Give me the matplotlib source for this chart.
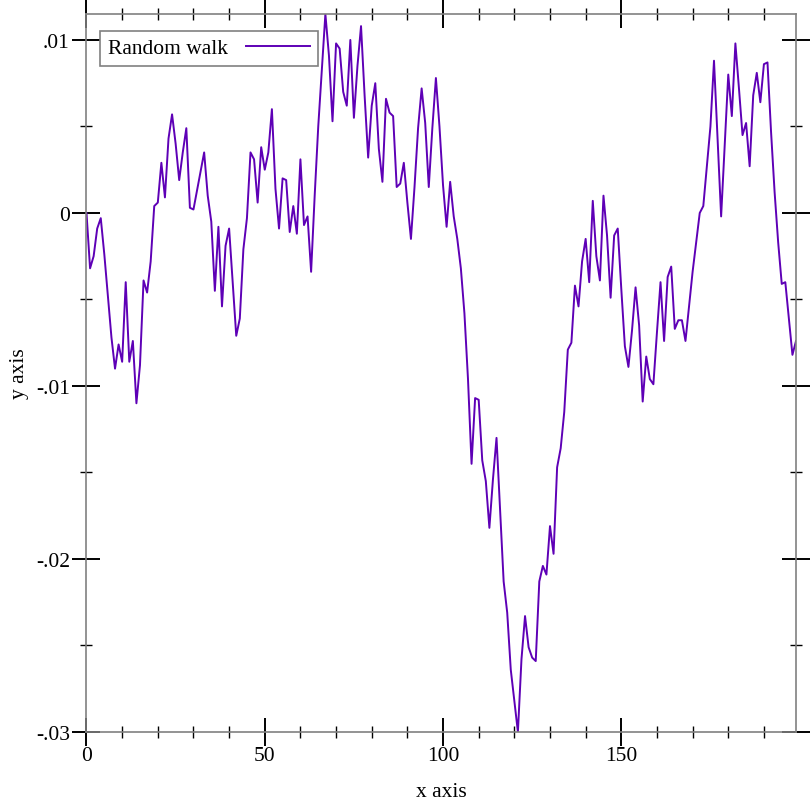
import numpy as np
import matplotlib
matplotlib.use("Agg")
import matplotlib.pyplot as plt
from matplotlib.ticker import MultipleLocator, FuncFormatter

# values, one per step (x = 0..199)
walk = [
    0.0000, -0.0032, -0.0025, -0.0009, -0.0003, -0.0024, -0.0048, -0.0072, -0.0090, -0.0076,
    -0.0086, -0.0040, -0.0086, -0.0074, -0.0110, -0.0088, -0.0039, -0.0046, -0.0028, 0.0004,
    0.0006, 0.0029, 0.0009, 0.0043, 0.0057, 0.0040, 0.0019, 0.0035, 0.0049, 0.0003,
    0.0002, 0.0013, 0.0024, 0.0035, 0.0010, -0.0005, -0.0045, -0.0008, -0.0054, -0.0019,
    -0.0009, -0.0040, -0.0071, -0.0061, -0.0021, -0.0003, 0.0035, 0.0031, 0.0006, 0.0038,
    0.0025, 0.0035, 0.0060, 0.0014, -0.0009, 0.0020, 0.0019, -0.0011, 0.0004, -0.0012,
    0.0031, -0.0007, -0.0002, -0.0034, 0.0010, 0.0050, 0.0083, 0.0115, 0.0091, 0.0053,
    0.0098, 0.0095, 0.0070, 0.0062, 0.0100, 0.0055, 0.0085, 0.0108, 0.0068, 0.0032,
    0.0062, 0.0075, 0.0037, 0.0018, 0.0066, 0.0058, 0.0056, 0.0015, 0.0017, 0.0029,
    0.0006, -0.0015, 0.0015, 0.0049, 0.0072, 0.0052, 0.0015, 0.0049, 0.0078, 0.0050,
    0.0016, -0.0008, 0.0018, -0.0002, -0.0015, -0.0032, -0.0058, -0.0096, -0.0145, -0.0107,
    -0.0108, -0.0143, -0.0155, -0.0182, -0.0154, -0.0130, -0.0171, -0.0213, -0.0231, -0.0264,
    -0.0282, -0.0300, -0.0258, -0.0233, -0.0251, -0.0257, -0.0259, -0.0213, -0.0204, -0.0209,
    -0.0181, -0.0197, -0.0147, -0.0136, -0.0115, -0.0079, -0.0075, -0.0042, -0.0054, -0.0028,
    -0.0015, -0.0040, 0.0007, -0.0025, -0.0039, 0.0010, -0.0013, -0.0049, -0.0013, -0.0009,
    -0.0044, -0.0077, -0.0089, -0.0068, -0.0043, -0.0065, -0.0109, -0.0083, -0.0096, -0.0099,
    -0.0069, -0.0040, -0.0074, -0.0037, -0.0031, -0.0067, -0.0062, -0.0062, -0.0074, -0.0054,
    -0.0034, -0.0017, 0.0000, 0.0004, 0.0027, 0.0050, 0.0088, 0.0043, -0.0002, 0.0039,
    0.0080, 0.0056, 0.0098, 0.0072, 0.0045, 0.0052, 0.0027, 0.0068, 0.0081, 0.0064,
    0.0086, 0.0087, 0.0047, 0.0012, -0.0017, -0.0041, -0.0040, -0.0061, -0.0082, -0.0074,
]
steps = list(range(len(walk)))
series_label = "Random walk"
x_title = "x axis"
y_title = "y axis"

plt.rcParams['font.family'] = ['Liberation Serif', 'DejaVu Serif']
plt.rcParams['font.size'] = 15.5

fig = plt.figure(figsize=(8.12, 8.12), dpi=100)
ax = fig.add_axes([86.5 / 812, 79 / 812, 709.5 / 812, 718 / 812])

ax.plot(steps, walk, color='#5e00b6', lw=1.4, label=series_label)

ax.set_xlim(0, steps[-1])
ax.set_ylim(min(walk), max(walk))

# racket-style ticks: crossing the frame on all four sides
ax.xaxis.set_major_locator(MultipleLocator(50))
ax.xaxis.set_minor_locator(MultipleLocator(10))
ax.yaxis.set_major_locator(MultipleLocator(0.01))
ax.yaxis.set_minor_locator(MultipleLocator(0.005))


def short_num(v, pos):
    if abs(v) < 1e-12:
        return "0"
    s = "%g" % round(v, 4)
    return s.replace("0.", ".")


ax.yaxis.set_major_formatter(FuncFormatter(short_num))
ax.tick_params(which='both', direction='inout', top=True, right=True,
               color='black', width=1)
ax.tick_params(which='major', length=20, width=1.4)
ax.tick_params(which='minor', length=9)
ax.tick_params(axis='x', which='major', pad=0)
ax.tick_params(axis='y', which='major', pad=2)

for sp in ax.spines.values():
    sp.set_color('#808080')
    sp.set_linewidth(1.2)

ax.set_xlabel(x_title, labelpad=12)
ax.set_ylabel(y_title, labelpad=5)

leg = ax.legend(loc='upper left', bbox_to_anchor=(0.019, 0.977), borderaxespad=0,
                markerfirst=False, fancybox=False, handlelength=3.0,
                handletextpad=0.85, borderpad=0.35, framealpha=1)
leg.get_frame().set_edgecolor('#808080')
leg.get_frame().set_linewidth(1.2)

fig.savefig("out.png", dpi=100)
